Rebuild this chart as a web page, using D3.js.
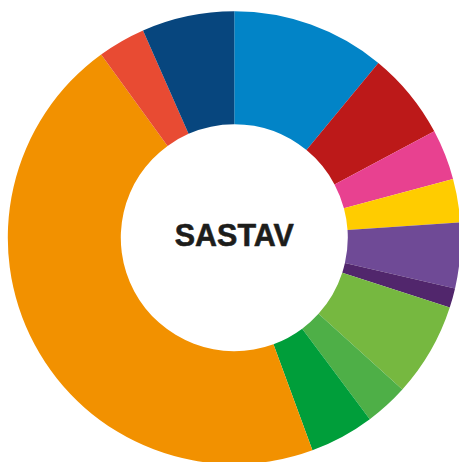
<!DOCTYPE html>
<html>
<head>
<meta charset="utf-8">
<script src="https://cdn.jsdelivr.net/npm/d3@7"></script>
<style>
  html, body { margin: 0; padding: 0; background: #ffffff; overflow: hidden; }
  svg { display: block; }
</style>
</head>
<body>
<svg id="chart" width="459" height="462"></svg>
<script>
// Data (share of the ring, percent), clockwise from 12 o'clock
const categories = ["A", "B", "C", "D", "E", "F", "G", "H", "I", "J", "K", "L"];
const values = [10.97, 6.25, 3.6, 3.1, 4.67, 1.4, 6.7, 3.1, 4.6, 45.6, 3.4, 6.6];
const colors = ["#0284C7", "#BC1919", "#E84190", "#FFCC00", "#6F4A96", "#51266C",
                "#76B840", "#4EAF47", "#009E3A", "#F29100", "#E84B33", "#07467E"];
const centerLabel = "SASTAV";

const svg = d3.select("#chart");
const cx = 234.3, cy = 237.7, outerR = 226.5, innerR = 113.5;

const g = svg.append("g").attr("transform", `translate(${cx},${cy})`);

const pie = d3.pie().sort(null).value(d => d.value);
const arc = d3.arc().innerRadius(innerR).outerRadius(outerR);

const data = categories.map((c, i) => ({ name: c, value: values[i], color: colors[i] }));

g.selectAll("path")
  .data(pie(data))
  .join("path")
  .attr("d", arc)
  .attr("fill", d => d.data.color);

g.append("text")
  .attr("x", 0)
  .attr("y", 8.5)
  .attr("text-anchor", "middle")
  .attr("font-family", "'Liberation Sans', Arial, sans-serif")
  .attr("font-weight", "bold")
  .attr("font-size", 30.5)
  .attr("textLength", 119)
  .attr("lengthAdjust", "spacingAndGlyphs")
  .attr("fill", "#1D1D1B")
  .attr("stroke", "#1D1D1B")
  .attr("stroke-width", 0.6)
  .attr("stroke-linejoin", "round")
  .text(centerLabel);
</script>
</body>
</html>
